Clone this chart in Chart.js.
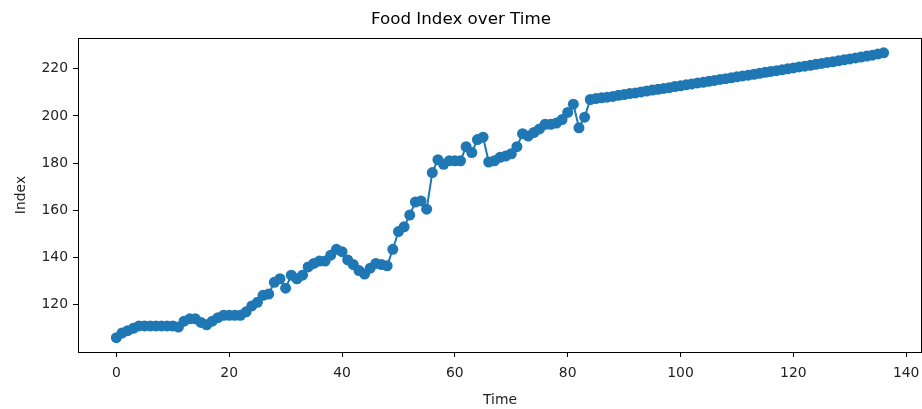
<!DOCTYPE html>
<html>
<head>
<meta charset="utf-8">
<script src="https://cdn.jsdelivr.net/npm/chart.js@4"></script>
<style>
html,body{margin:0;padding:0;background:#fff;}
#wrap{width:922px;height:409px;position:relative;}
</style>
</head>
<body>
<div id="wrap"><canvas id="c" width="922" height="409"></canvas></div>
<script>
// ---- data ----
const chartTitle = "Food Index over Time";
const xTitle = "Time";
const yTitle = "Index";
const xTicks = [0, 20, 40, 60, 80, 100, 120, 140];
const yTicks = [120, 140, 160, 180, 200, 220];
const indexValues = [
  106, 108, 109, 110, 111, 111, 111, 111, 111, 111,
  111, 110.5, 113, 114, 114, 112.5, 111.5, 113, 114.5, 115.5,
  115.5, 115.5, 115.5, 117, 119.5, 121, 124, 124.5, 129.5, 131,
  127, 132.5, 131, 132.5, 136, 137.5, 138.5, 138.5, 141, 143.5,
  142.5, 139, 137, 134.5, 133, 135.5, 137.5, 137, 136.5, 143.5,
  151, 153, 158, 163.5, 164, 160.5, 176, 181.5, 179.5, 181,
  181, 181, 187, 184.5, 190, 191, 180.5, 181, 182.5, 183,
  184, 187, 192.5, 191.5, 193, 194.5, 196.5, 196.5, 197, 198.5,
  201.5, 205, 195, 199.5, 207, 207.4, 207.7, 208.0, 208.3, 208.8,
  209.1, 209.5, 209.8, 210.2, 210.6, 211.0, 211.3, 211.7, 212.0, 212.5,
  212.8, 213.2, 213.6, 214.0, 214.3, 214.7, 215.1, 215.5, 215.8, 216.2,
  216.6, 217.0, 217.3, 217.7, 218.1, 218.5, 218.9, 219.2, 219.6, 220.0,
  220.4, 220.8, 221.1, 221.5, 221.9, 222.3, 222.7, 223.0, 223.4, 223.8,
  224.2, 224.6, 225.0, 225.4, 225.8, 226.3, 226.8
];
const timeValues = indexValues.map((_, i) => i);

// ---- chart ----
const points = timeValues.map((t, i) => ({x: t, y: indexValues[i]}));
const xMin = -6.8, xMax = 142.8;
const yMin = 99.95, yMax = 233.05;
const FONT = "'DejaVu Sans', sans-serif";

const framePlugin = {
  id: 'frame',
  afterDraw(chart) {
    const {ctx, chartArea: a} = chart;
    ctx.save();
    ctx.strokeStyle = '#000';
    ctx.lineWidth = 1;
    ctx.strokeRect(Math.round(a.left) + 0.5, Math.round(a.top) + 0.5,
                   Math.round(a.right - a.left) - 1, Math.round(a.bottom - a.top));
    ctx.restore();
  }
};

new Chart(document.getElementById('c'), {
  type: 'line',
  data: {
    datasets: [{
      data: points,
      borderColor: '#1f77b4',
      backgroundColor: '#1f77b4',
      borderWidth: 2,
      pointRadius: 5.5,
      pointBorderWidth: 0,
      pointBackgroundColor: '#1f77b4',
      tension: 0,
      fill: false
    }]
  },
  options: {
    responsive: false,
    animation: false,
    devicePixelRatio: 1,
    layout: {autoPadding: false, padding: {top: 0, right: 0, bottom: 0, left: 0}},
    plugins: {
      legend: {display: false},
      tooltip: {enabled: false},
      title: {
        display: true,
        text: chartTitle,
        color: '#000',
        font: {family: FONT, size: 16.7, weight: 'normal'},
        padding: {top: 10, bottom: 8}
      }
    },
    scales: {
      x: {
        type: 'linear',
        min: xMin, max: xMax,
        afterFit(s) { s.height = 57; s.paddingLeft = 0; s.paddingRight = 0; },
        afterBuildTicks(s) { s.ticks = xTicks.map(v => ({value: v})); },
        grid: {display: true, drawOnChartArea: false, drawTicks: true, tickLength: 5, color: '#000', lineWidth: 1},
        border: {display: true, color: '#000', width: 1},
        ticks: {color: '#222', font: {family: FONT, size: 13.9}, padding: 8, maxRotation: 0, autoSkip: false},
        title: {display: true, text: xTitle, color: '#222', font: {family: FONT, size: 13.9}, padding: {top: 0, bottom: 0}}
      },
      y: {
        type: 'linear',
        min: yMin, max: yMax,
        afterFit(s) { s.width = 78; s.paddingTop = 0; s.paddingBottom = 0; },
        afterBuildTicks(s) { s.ticks = yTicks.map(v => ({value: v})); },
        grid: {display: true, drawOnChartArea: false, drawTicks: true, tickLength: 5, color: '#000', lineWidth: 1},
        border: {display: true, color: '#000', width: 1},
        ticks: {color: '#222', font: {family: FONT, size: 13.9}, padding: 5, autoSkip: false},
        title: {display: true, text: yTitle, color: '#222', font: {family: FONT, size: 13.9}, padding: {top: 13, bottom: 0}}
      }
    }
  },
  plugins: [framePlugin]
});
</script>
</body>
</html>
